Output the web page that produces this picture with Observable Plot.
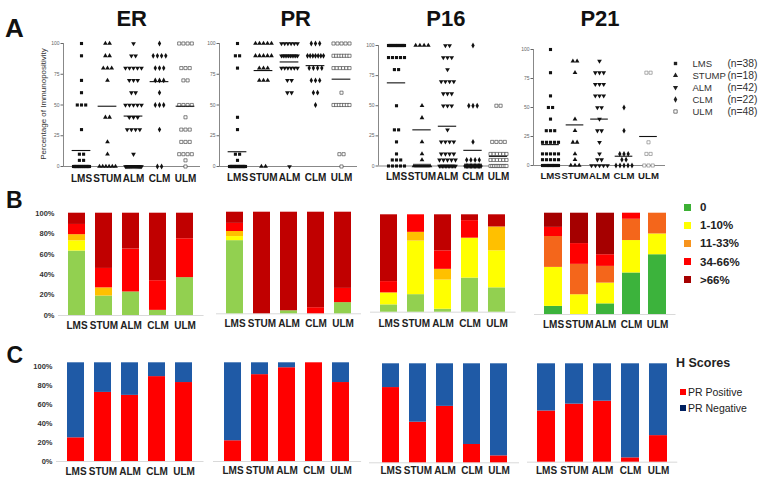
<!DOCTYPE html>
<html><head><meta charset="utf-8">
<script src="https://cdn.jsdelivr.net/npm/d3@7"></script>
<script src="https://cdn.jsdelivr.net/npm/@observablehq/plot@0.6"></script>
<style>
body{margin:0;background:#fff;}
#root{position:relative;width:772px;height:480px;overflow:hidden;font-family:"Liberation Sans",Arial,sans-serif;background:#fff;}
#root svg{overflow:visible;}
.leg{position:absolute;display:flex;align-items:center;color:#222;white-space:nowrap;}
.sw{display:inline-block;}
</style></head><body><div id="root"></div>
<script>
// ---------- DATA ----------
const cats = ["LMS","STUMP","ALM","CLM","ULM"];
const catLabels = ["LMS","STUM","ALM","CLM","ULM"];
const sampleSizes = [38,18,42,22,48];
const levels = [100,90,80,70,60,50,40,30,20,10,5,0];

// Panel A: number of cases at each level (columns follow `levels`), rows follow `cats`
const erCounts = [
  [1,1,0,1,1,3,0,1,0,2,2,26],
  [2,2,3,1,0,0,2,0,1,1,0,6],
  [1,2,5,3,2,5,3,4,0,1,0,16],
  [1,4,3,3,1,3,0,1,0,0,0,2],
  [4,0,3,2,0,4,1,3,3,4,1,1]
];
const prCounts = [
  [1,2,1,0,0,0,1,1,0,2,1,29],
  [5,5,3,3,0,0,0,0,0,0,0,2],
  [6,10,6,2,2,0,0,0,0,0,0,1],
  [3,7,4,3,2,1,0,0,0,0,0,0],
  [5,7,6,0,1,7,0,0,0,2,0,1]
];
const p16Counts = [
  [18,5,2,0,0,1,0,2,1,1,3,5],
  [4,0,0,0,0,1,1,0,1,1,1,9],
  [2,3,1,4,3,3,0,1,4,4,5,12],
  [1,0,0,0,0,3,0,0,1,0,4,13],
  [0,0,0,0,0,2,0,0,4,6,6,10]
];
const p21Counts = [
  [1,0,1,0,1,2,1,3,5,5,5,14],
  [0,2,1,0,0,0,1,1,2,1,1,3],
  [0,1,3,3,3,2,1,2,1,1,2,5],
  [0,0,0,0,0,1,0,1,0,3,2,5],
  [0,0,2,0,0,0,0,0,1,2,0,3]
];
const erMeans = [13,49,41,69,49];
const prMeans = [12,78,85,82,71];
const p16Means = [69,30,33,13,8];
const p21Means = [18,35,40,8,25];

// Panel B: % of cases per staining class
const bClasses = ["0","1-10%","11-33%","34-66%",">66%"];
const erB  = [[63,10,6,10,11],[19,0,8,19,54],[23,0,0,42,35],[5,0,0,29,66],[37,0,0,38,25]];
const prB  = [[72,4,5,8,11],[0,0,0,0,100],[3,0,0,0,97],[0,0,0,6,94],[11,0,0,14,75]];
const p16B = [[7.5,12.3,0,11.6,68.6],[18,55,9,18,0],[3,30,11,19,37],[35,41,0,18,6],[25,38,24.5,0,12.5]];
const p21B = [[8,38.5,30.5,9,14],[0,19.5,30,20.5,30],[10.5,20.5,16.5,11.5,41],[41,32,21,6,0],[59,20.5,20.5,0,0]];

// Panel C: H score, % PR positive (rest negative)
const hClasses = ["PR Positive","PR Negative"];
const erPos  = [24,70,67,86,80];
const prPos  = [21,88,95,100,80];
const p16Pos = [76,41,57,18.5,7];
const p21Pos = [52,59,62,4.4,27];

// ---------- STYLE ----------
const FONT = "Liberation Sans, Arial, sans-serif";
const bColors = ["#92d050","#ffff00","#ffc000","#ff0000","#c00000"];
const bColorsP21 = ["#3cb33c","#ffff00","#f4661b","#ff0000","#a50000"];
const legColorsB = ["#3cb034","#ffff00","#f7941d","#ff0000","#a50000"];
const hColors = ["#ff0000","#1f5aa6"];
const legColorsC = ["#ff0000","#002060"];

const sqrt3 = Math.sqrt(3);
const triangleDown = {draw(ctx, size){ const y = -Math.sqrt(size/(sqrt3*3)); ctx.moveTo(0,-y*2); ctx.lineTo(-sqrt3*y,y); ctx.lineTo(sqrt3*y,y); ctx.closePath(); }};
const symbolRange = ["square","triangle",triangleDown,"diamond","square"];

const root = document.getElementById("root");
function place(el, left, top){ el.style.position="absolute"; el.style.left=left+"px"; el.style.top=top+"px"; root.appendChild(el); }

// ---------- PANEL A ----------
function dotPanel(counts, means, cfg){
  const {axisX, cat0, step, endX, y100, y0, pad, top=35, height=150, fs=10, openStroke="#333"} = cfg;
  const mL = 24, mR = 6;
  const svgLeft = axisX - mL;
  const width = endX - svgLeft + mR;
  const gapPx = 4.2, maxW = 16;
  const pts = [];
  counts.forEach((row,i)=>row.forEach((k,li)=>{
    const g = k>1 ? Math.min(gapPx, maxW/(k-1))/step : 0;
    for(let j=0;j<k;j++) pts.push({cat:cats[i], x:i+(j-(k-1)/2)*g, y:levels[li]});
  }));
  const xDomain = [(axisX-cat0)/step, (endX-cat0)/step];
  const meanRows = means.map((m,i)=>({i,m}));
  const filled = pts.filter(d=>d.cat!=="ULM"), open = pts.filter(d=>d.cat==="ULM");
  const el = Plot.plot({
    width, height, marginLeft:mL, marginRight:mR, marginTop:y100-top, marginBottom:top+height-y0,
    style:{background:"transparent", fontFamily:FONT, overflow:"visible"},
    x:{domain:xDomain},
    y:{domain:[0,100]},
    symbol:{domain:cats, range:symbolRange},
    marks:[
      Plot.ruleY([0],{stroke:"#888", strokeWidth:1}),
      Plot.ruleX([xDomain[0]],{stroke:"#888", strokeWidth:1}),
      Plot.axisY({ticks:[0,25,50,75,100], label:null, tickSize:2.5, tickPadding:1.5, fontSize:5, color:"#666"}),
      Plot.axisX({ticks:[0,1,2,3,4], label:null, tickFormat:i=>catLabels[i], tickSize:0, tickPadding:pad, fontSize:fs, fontWeight:"bold", color:"#1a1a1a"}),
      Plot.dot(filled,{x:"x", y:"y", symbol:"cat", r:1.75, fill:"#111", stroke:"none"}),
      Plot.dot(open,{x:"x", y:"y", symbol:"cat", r:1.75, fill:"white", stroke:openStroke, strokeWidth:0.6}),
      Plot.ruleY(meanRows,{y:"m", x1:d=>d.i-0.36, x2:d=>d.i+0.36, stroke:"#111", strokeWidth:1.1})
    ]
  });
  place(el, svgLeft, top);
}
dotPanel(erCounts, erMeans, {axisX:63, cat0:81, step:26, endX:200, y100:43, y0:166, pad:8});
dotPanel(prCounts, prMeans, {axisX:219, cat0:237, step:26, endX:357, y100:43, y0:166, pad:7});
dotPanel(p16Counts, p16Means, {axisX:378, cat0:396, step:25.5, endX:507, y100:45, y0:165.5, pad:6.5});
dotPanel(p21Counts, p21Means, {axisX:533, cat0:550, step:24.5, endX:665, y100:49, y0:165, pad:6.5, fs:9.6, openStroke:"#777"});

// Panel A legend
{
  const rows = cats.map((c,i)=>({cat:c, n:sampleSizes[i]}));
  const el = Plot.plot({
    width:100, height:80, margin:0,
    style:{background:"transparent", fontFamily:FONT, overflow:"visible"},
    x:{domain:[0,1], range:[10,92], axis:null},
    y:{type:"point", domain:cats, range:[11,72], axis:null},
    symbol:{domain:cats, range:symbolRange},
    marks:[
      Plot.dot(rows.filter(d=>d.cat!=="ULM"),{x:()=>0, y:"cat", symbol:"cat", r:1.9, fill:"#222"}),
      Plot.dot(rows.filter(d=>d.cat==="ULM"),{x:()=>0, y:"cat", symbol:"cat", r:1.9, fill:"white", stroke:"#444", strokeWidth:0.7}),
      Plot.text(rows,{x:()=>0, y:"cat", text:"cat", dx:17, textAnchor:"start", fontSize:9.5, fill:"#333"}),
      Plot.text(rows,{x:()=>1, y:"cat", text:d=>`(n=${d.n})`, textAnchor:"end", fontSize:10.3, fill:"#333"})
    ]
  });
  place(el, 665, 45);
}

// ---------- PANELS B & C ----------
function stackPanel(rows, classes, colors, cfg){
  const {c0, step, bw, yTop, yBottom, top, height, pad, yAxis=false, overshoot=1, leftRoom=6} = cfg;
  const p = 1 - bw/step;
  const a = c0 - step*(1+p)/2;
  const b = a + step*(5+p);
  const svgLeft = a - leftRoom;
  const mR = 4;
  const width = b - svgLeft + mR;
  const data = rows.flatMap((vals,i)=>vals.map((v,k)=>({cat:catLabels[i], cls:classes[k], v})));
  const marks = [
    Plot.ruleY([0],{stroke:"#d9d9d9"}),
    Plot.barY(data,{x:"cat", y:"v", fill:"cls", offset:"normalize"}),
    Plot.axisX({label:null, tickSize:0, tickPadding:pad, fontSize:10, fontWeight:"bold", color:"#222"})
  ];
  if (yAxis) marks.push(Plot.axisY({label:null, ticks:[0,.2,.4,.6,.8,1].map(t=>t/overshoot), tickFormat:d=>Math.round(d*overshoot*100)+"%", tickSize:0, tickPadding:4, fontSize:7.5, fontWeight:"bold", color:"#333"}));
  const el = Plot.plot({
    width, height, marginLeft:leftRoom, marginRight:mR, marginTop:yTop-top, marginBottom:top+height-yBottom,
    style:{background:"transparent", fontFamily:FONT, overflow:"visible"},
    x:{type:"band", domain:catLabels, padding:p},
    y:{domain:[0,1], axis: yAxis ? undefined : null},
    color:{domain:classes, range:colors},
    marks
  });
  place(el, svgLeft, top);
}
const posNeg = arr => arr.map(v=>[v, 100-v]);

stackPanel(erB, bClasses, bColors, {c0:76.5, step:27.1, bw:17, yTop:212.7, yBottom:315, top:205, height:125, pad:6, yAxis:true, leftRoom:30});
stackPanel(prB, bClasses, bColors, {c0:234.5, step:27, bw:17, yTop:211.7, yBottom:313.3, top:205, height:125, pad:5.7});
stackPanel(p16B, bClasses, bColors, {c0:389, step:27.1, bw:17, yTop:214.3, yBottom:311.7, top:205, height:125, pad:7.3});
stackPanel(p21B, bClasses, bColorsP21, {c0:551.5, step:26.75, bw:19, yTop:212.7, yBottom:314, top:205, height:125, pad:6});

stackPanel(posNeg(erPos), hClasses, hColors, {c0:75, step:27.5, bw:17.5, yTop:362.3, yBottom:461, top:355, height:125, pad:6.7, yAxis:true, overshoot:1.035, leftRoom:30});
stackPanel(posNeg(prPos), hClasses, hColors, {c0:231.5, step:27.6, bw:17.5, yTop:362.3, yBottom:461, top:355, height:125, pad:5});
stackPanel(posNeg(p16Pos), hClasses, hColors, {c0:388, step:27.9, bw:17.4, yTop:363.3, yBottom:462.3, top:355, height:125, pad:3.7});
stackPanel(posNeg(p21Pos), hClasses, hColors, {c0:546, step:28, bw:17.7, yTop:363.3, yBottom:461.7, top:355, height:125, pad:4.3});

// ---------- LEGENDS B & C (HTML) ----------
bClasses.forEach((c,i)=>{
  const d = document.createElement("div"); d.className="leg";
  d.style.left="684px"; d.style.top=(200+i*18.2)+"px"; d.style.height="14px";
  d.style.font=`bold 11.5px ${FONT}`;
  d.innerHTML=`<span class="sw" style="width:7px;height:7px;background:${legColorsB[i]};margin-right:9px"></span>${c}`;
  root.appendChild(d);
});
{
  const h = document.createElement("div"); h.className="leg";
  h.style.left="676px"; h.style.top="356px"; h.style.font=`bold 12.5px ${FONT}`; h.textContent="H Scores";
  root.appendChild(h);
  hClasses.forEach((c,i)=>{
    const d = document.createElement("div"); d.className="leg";
    d.style.left="680px"; d.style.top=(385+i*16.5)+"px"; d.style.height="13px";
    d.style.font=`10.5px ${FONT}`;
    d.innerHTML=`<span class="sw" style="width:6px;height:6px;background:${legColorsC[i]};margin-right:2px"></span>${c}`;
    root.appendChild(d);
  });
}

// ---------- TITLES & LETTERS ----------
const ov = d3.create("svg").attr("width",772).attr("height",480)
  .style("position","absolute").style("left","0px").style("top","0px").style("pointer-events","none")
  .style("font-family",FONT);
const letters = [["A",5,37,26],["B",6,208,23],["C",6.5,363,23]];
letters.forEach(([t,x,y,s])=>ov.append("text").attr("x",x).attr("y",y).attr("font-size",s).attr("font-weight","bold").attr("fill","#111").text(t));
const titles = [["ER",131.7],["PR",295.7],["P16",445.8],["P21",600]];
titles.forEach(([t,x])=>ov.append("text").attr("x",x).attr("y",25.5).attr("text-anchor","middle").attr("font-size",22).attr("font-weight","bold").attr("fill","#111").text(t));
ov.append("text").attr("transform","translate(46,104) rotate(-90)").attr("text-anchor","middle")
  .attr("font-size",8).attr("fill","#333").text("Percentage of Immunopositivity");
root.appendChild(ov.node());
</script></body></html>
